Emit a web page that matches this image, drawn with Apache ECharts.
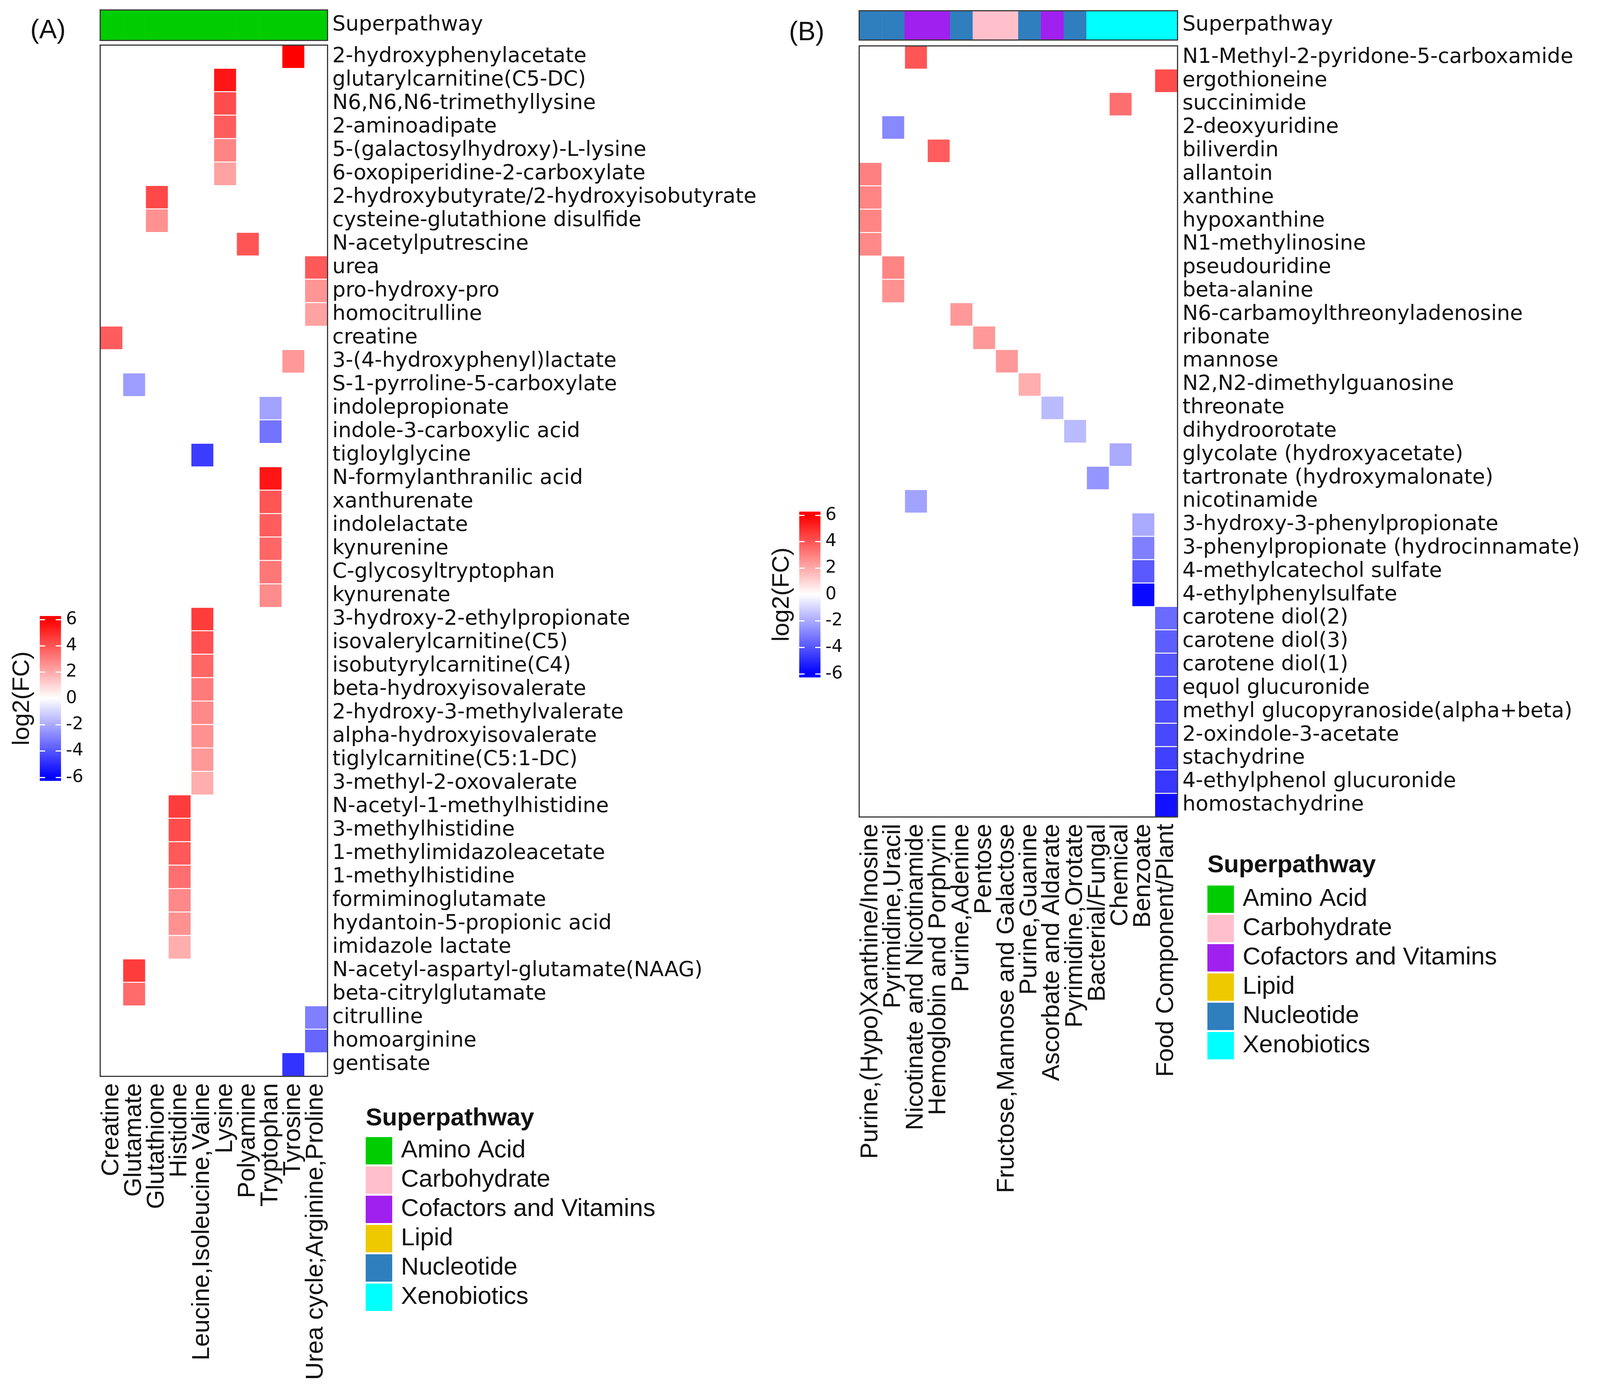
<!DOCTYPE html>
<html><head><meta charset="utf-8">
<script src="https://cdn.jsdelivr.net/npm/echarts@6/dist/echarts.min.js"></script>
<style>html,body{margin:0;padding:0;background:#fff;overflow:hidden}#c{width:100vw;height:100vh}</style>
</head><body><div id="c"></div>
<script>
// ---------- data ----------
const pathways = ['Amino Acid','Carbohydrate','Cofactors and Vitamins','Lipid','Nucleotide','Xenobiotics'];
const pathwayColors = ['#00CD00','#FFC0CB','#A020F0','#EEC900','#2F7EBE','#00FFFF'];

const colsA = ['Creatine','Glutamate','Glutathione','Histidine','Leucine,Isoleucine,Valine','Lysine','Polyamine','Tryptophan','Tyrosine','Urea cycle;Arginine,Proline'];
const superA = [0,0,0,0,0,0,0,0,0,0];
const rowsA = ['2-hydroxyphenylacetate','glutarylcarnitine(C5-DC)','N6,N6,N6-trimethyllysine','2-aminoadipate','5-(galactosylhydroxy)-L-lysine','6-oxopiperidine-2-carboxylate','2-hydroxybutyrate/2-hydroxyisobutyrate','cysteine-glutathione disulfide','N-acetylputrescine','urea','pro-hydroxy-pro','homocitrulline','creatine','3-(4-hydroxyphenyl)lactate','S-1-pyrroline-5-carboxylate','indolepropionate','indole-3-carboxylic acid','tigloylglycine','N-formylanthranilic acid','xanthurenate','indolelactate','kynurenine','C-glycosyltryptophan','kynurenate','3-hydroxy-2-ethylpropionate','isovalerylcarnitine(C5)','isobutyrylcarnitine(C4)','beta-hydroxyisovalerate','2-hydroxy-3-methylvalerate','alpha-hydroxyisovalerate','tiglylcarnitine(C5:1-DC)','3-methyl-2-oxovalerate','N-acetyl-1-methylhistidine','3-methylhistidine','1-methylimidazoleacetate','1-methylhistidine','formiminoglutamate','hydantoin-5-propionic acid','imidazole lactate','N-acetyl-aspartyl-glutamate(NAAG)','beta-citrylglutamate','citrulline','homoarginine','gentisate'];
const colOfRowA = [8,5,5,5,5,5,2,2,6,9,9,9,0,8,1,7,7,4,7,7,7,7,7,7,4,4,4,4,4,4,4,4,3,3,3,3,3,3,3,1,1,9,9,8];
const fcA = [6.0,5.5,4.2,3.8,2.9,2.2,4.3,2.6,4.0,3.9,2.5,2.2,3.8,2.4,-2.3,-2.2,-3.3,-4.6,5.5,4.0,3.8,3.6,3.2,2.7,4.6,4.1,3.6,3.1,2.8,2.6,2.4,1.9,4.6,4.2,3.9,3.4,2.8,2.6,1.9,4.6,3.5,-3.0,-3.6,-4.8];

const colsB = ['Purine,(Hypo)Xanthine/Inosine','Pyrimidine,Uracil','Nicotinate and Nicotinamide','Hemoglobin and Porphyrin','Purine,Adenine','Pentose','Fructose,Mannose and Galactose','Purine,Guanine','Ascorbate and Aldarate','Pyrimidine,Orotate','Bacterial/Fungal','Chemical','Benzoate','Food Component/Plant'];
const superB = [4,4,2,2,4,1,1,4,2,4,5,5,5,5];
const rowsB = ['N1-Methyl-2-pyridone-5-carboxamide','ergothioneine','succinimide','2-deoxyuridine','biliverdin','allantoin','xanthine','hypoxanthine','N1-methylinosine','pseudouridine','beta-alanine','N6-carbamoylthreonyladenosine','ribonate','mannose','N2,N2-dimethylguanosine','threonate','dihydroorotate','glycolate (hydroxyacetate)','tartronate (hydroxymalonate)','nicotinamide','3-hydroxy-3-phenylpropionate','3-phenylpropionate (hydrocinnamate)','4-methylcatechol sulfate','4-ethylphenylsulfate','carotene diol(2)','carotene diol(3)','carotene diol(1)','equol glucuronide','methyl glucopyranoside(alpha+beta)','2-oxindole-3-acetate','stachydrine','4-ethylphenol glucuronide','homostachydrine'];
const colOfRowB = [2,13,11,1,3,0,0,0,0,1,1,4,5,6,7,8,9,11,10,2,12,12,12,12,13,13,13,13,13,13,13,13,13];
const fcB = [4.0,4.2,3.4,-2.8,3.8,3.0,2.9,2.9,2.8,2.9,2.6,2.4,2.4,2.4,1.9,-1.6,-1.6,-2.0,-2.5,-2.2,-2.0,-3.0,-3.9,-5.8,-3.5,-3.8,-4.0,-4.1,-4.2,-4.3,-4.5,-4.7,-5.6];

const cbTicks = [-6,-4,-2,0,2,4,6];
const cbRange = [-6.27, 6.27];
const annoRow = ['Superpathway'];

// ---------- layout scaling (design space 4222 x 3561, fitted to the actual viewport) ----------
const VW = Math.min(window.innerWidth || 4222, 4222);
const VH = Math.min(window.innerHeight || 3561, 3561);
const sx = VW / 4222, sy = VH / 3561;
const X = v => v * sx, Y = v => v * sy, FX = v => Math.round(v * sx * 10) / 10, FY = v => Math.round(v * sy * 10) / 10;

// ---------- build ----------
const dataA = rowsA.map((r,i)=>[colOfRowA[i], i, fcA[i]]);
const dataB = rowsB.map((r,i)=>[colOfRowB[i], i, fcB[i]]);
const annoA = superA.map((p,j)=>[j,0,p]);
const annoB = superB.map((p,j)=>[j,0,p]);

const TXT = '#111';
const BORDER = {show:true, lineStyle:{color:'#3a3a3a', width:3}};
const rowLabel = {show:true, interval:0, margin:X(13), fontFamily:'DejaVu Sans', fontSize:FX(55), color:TXT};
const colLabel = {show:true, interval:0, rotate:90, margin:Y(18), fontFamily:'Liberation Sans', fontSize:FY(63), color:TXT};

function lineAxis(grid, data, pos){
  return {type:'category', gridIndex:grid, data:data, position:pos, z:10,
    axisLine:BORDER, axisTick:{show:false}, axisLabel:{show:false}, splitLine:{show:false}};
}

const grids = [
  {left:X(264), top:Y(115), width:X(600), height:Y(2640)},
  {left:X(264), top:Y(25), width:X(600), height:Y(78)},
  {left:X(2267), top:Y(117), width:X(840), height:Y(1974)},
  {left:X(2267), top:Y(27), width:X(840), height:Y(75)},
  {left:X(105), top:Y(1586), width:X(56), height:Y(404)},
  {left:X(2109), top:Y(1319), width:X(56), height:Y(406)}
].map(g=>Object.assign({containLabel:false, outerBoundsMode:'none'}, g));

const xAxes = [
  {type:'category', gridIndex:0, data:colsA, position:'bottom', z:10, axisLine:BORDER, axisTick:{show:false}, axisLabel:colLabel},
  lineAxis(0, colsA, 'top'),
  lineAxis(1, colsA, 'bottom'),
  lineAxis(1, colsA, 'top'),
  {type:'category', gridIndex:2, data:colsB, position:'bottom', z:10, axisLine:BORDER, axisTick:{show:false}, axisLabel:colLabel},
  lineAxis(2, colsB, 'top'),
  lineAxis(3, colsB, 'bottom'),
  lineAxis(3, colsB, 'top'),
  {type:'category', gridIndex:4, data:['cb'], show:false},
  {type:'category', gridIndex:5, data:['cb'], show:false}
];

function cbRight(grid){
  return {type:'value', gridIndex:grid, min:-6, max:6, interval:2, position:'right', z:10,
    axisLine:{show:false}, splitLine:{show:false},
    axisTick:{show:true, inside:true, length:X(56), lineStyle:{color:'#ffffff', width:3, type:[X(14),X(28)]}},
    axisLabel:{show:true, margin:X(13), fontFamily:'DejaVu Sans', fontSize:FX(46), color:TXT}};
}
function cbLeft(grid){
  return {type:'value', gridIndex:grid, min:-6, max:6, interval:2, position:'left',
    axisLine:{show:false}, splitLine:{show:false}, axisTick:{show:false}, axisLabel:{show:false},
    name:'log2(FC)', nameLocation:'middle', nameRotate:90, nameGap:X(14),
    nameTextStyle:{fontFamily:'Liberation Sans', fontSize:FY(62), color:TXT}};
}

const yAxes = [
  {type:'category', gridIndex:0, data:rowsA, inverse:true, position:'right', z:10, axisLine:BORDER, axisTick:{show:false}, axisLabel:rowLabel},
  Object.assign(lineAxis(0, rowsA, 'left'), {inverse:true}),
  {type:'category', gridIndex:1, data:annoRow, position:'right', z:10, axisLine:BORDER, axisTick:{show:false}, axisLabel:rowLabel},
  lineAxis(1, annoRow, 'left'),
  {type:'category', gridIndex:2, data:rowsB, inverse:true, position:'right', z:10, axisLine:BORDER, axisTick:{show:false}, axisLabel:rowLabel},
  Object.assign(lineAxis(2, rowsB, 'left'), {inverse:true}),
  {type:'category', gridIndex:3, data:annoRow, position:'right', z:10, axisLine:BORDER, axisTick:{show:false}, axisLabel:rowLabel},
  lineAxis(3, annoRow, 'left'),
  cbRight(4), cbLeft(4), cbRight(5), cbLeft(5)
];

function cbSeries(xi, yi){
  return {type:'custom', xAxisIndex:xi, yAxisIndex:yi, clip:false, silent:true, z:2,
    encode:{x:0, y:[1,2]},
    data:[[0, cbRange[0], cbRange[1]]],
    renderItem:function(params, api){
      const top = api.coord([api.value(0), api.value(2)]);
      const bot = api.coord([api.value(0), api.value(1)]);
      const w = api.size([1,0])[0];
      const span = cbRange[1]-cbRange[0];
      const o6 = (cbRange[1]-6)/span;
      return {type:'rect', shape:{x:top[0]-w/2, y:top[1], width:w, height:bot[1]-top[1]},
        style:{fill:new echarts.graphic.LinearGradient(0,0,0,1,[
          {offset:0, color:'#FF0000'},{offset:o6, color:'#FF0000'},
          {offset:0.5, color:'#FFFFFF'},
          {offset:1-o6, color:'#0000FF'},{offset:1, color:'#0000FF'}])}};
    }};
}

const series = [
  {type:'heatmap', name:'A', xAxisIndex:0, yAxisIndex:0, data:dataA, itemStyle:{borderColor:'#ffffff', borderWidth:2.5}, emphasis:{disabled:true}},
  {type:'heatmap', name:'annoA', xAxisIndex:2, yAxisIndex:2, data:annoA, itemStyle:{borderWidth:0}, emphasis:{disabled:true}},
  {type:'heatmap', name:'B', xAxisIndex:4, yAxisIndex:4, data:dataB, itemStyle:{borderColor:'#ffffff', borderWidth:2.5}, emphasis:{disabled:true}},
  {type:'heatmap', name:'annoB', xAxisIndex:6, yAxisIndex:6, data:annoB, itemStyle:{borderWidth:0}, emphasis:{disabled:true}},
  cbSeries(8, 8),
  cbSeries(9, 10)
].concat(pathways.map((p,i)=>({type:'scatter', name:p, data:[], xAxisIndex:0, yAxisIndex:0, itemStyle:{color:pathwayColors[i], opacity:1}})));

function legendAt(left, top){
  return {data:pathways, left:X(left), top:Y(top), orient:'vertical', icon:'rect', itemWidth:X(70), itemHeight:Y(70), itemGap:Y(5),
    selectedMode:false, padding:0, itemStyle:{opacity:1},
    textStyle:{fontFamily:'Liberation Sans', fontSize:FX(65), color:TXT, padding:[0,0,0,X(18)]}};
}

function textTitle(text, left, top, size, weight){
  return {text:text, left:X(left), top:Y(top), padding:0,
    textStyle:{fontFamily:'Liberation Sans', fontSize:FX(size), fontWeight:weight, color:TXT}};
}

const option = {
  animation:false,
  backgroundColor:'#ffffff',
  textStyle:{fontFamily:'Liberation Sans'},
  title:[
    textTitle('(A)', 80, 45, 70, 'normal'),
    textTitle('(B)', 2082, 50, 70, 'normal'),
    textTitle('Superpathway', 965, 2832, 65, 'bold'),
    textTitle('Superpathway', 3186, 2184, 65, 'bold')
  ],
  legend:[legendAt(965, 2911), legendAt(3186, 2267)],
  grid:grids,
  xAxis:xAxes,
  yAxis:yAxes,
  visualMap:[
    {type:'continuous', show:false, seriesIndex:[0,2], dimension:2, min:-6, max:6, inRange:{color:['#0000FF','#FFFFFF','#FF0000']}},
    {type:'piecewise', show:false, seriesIndex:[1,3], dimension:2, pieces:pathways.map((p,i)=>({value:i, color:pathwayColors[i]}))}
  ],
  series:series
};

const chart = echarts.init(document.getElementById('c'), null, {renderer:'canvas', width:VW, height:VH});
chart.setOption(option);
</script>
</body></html>
